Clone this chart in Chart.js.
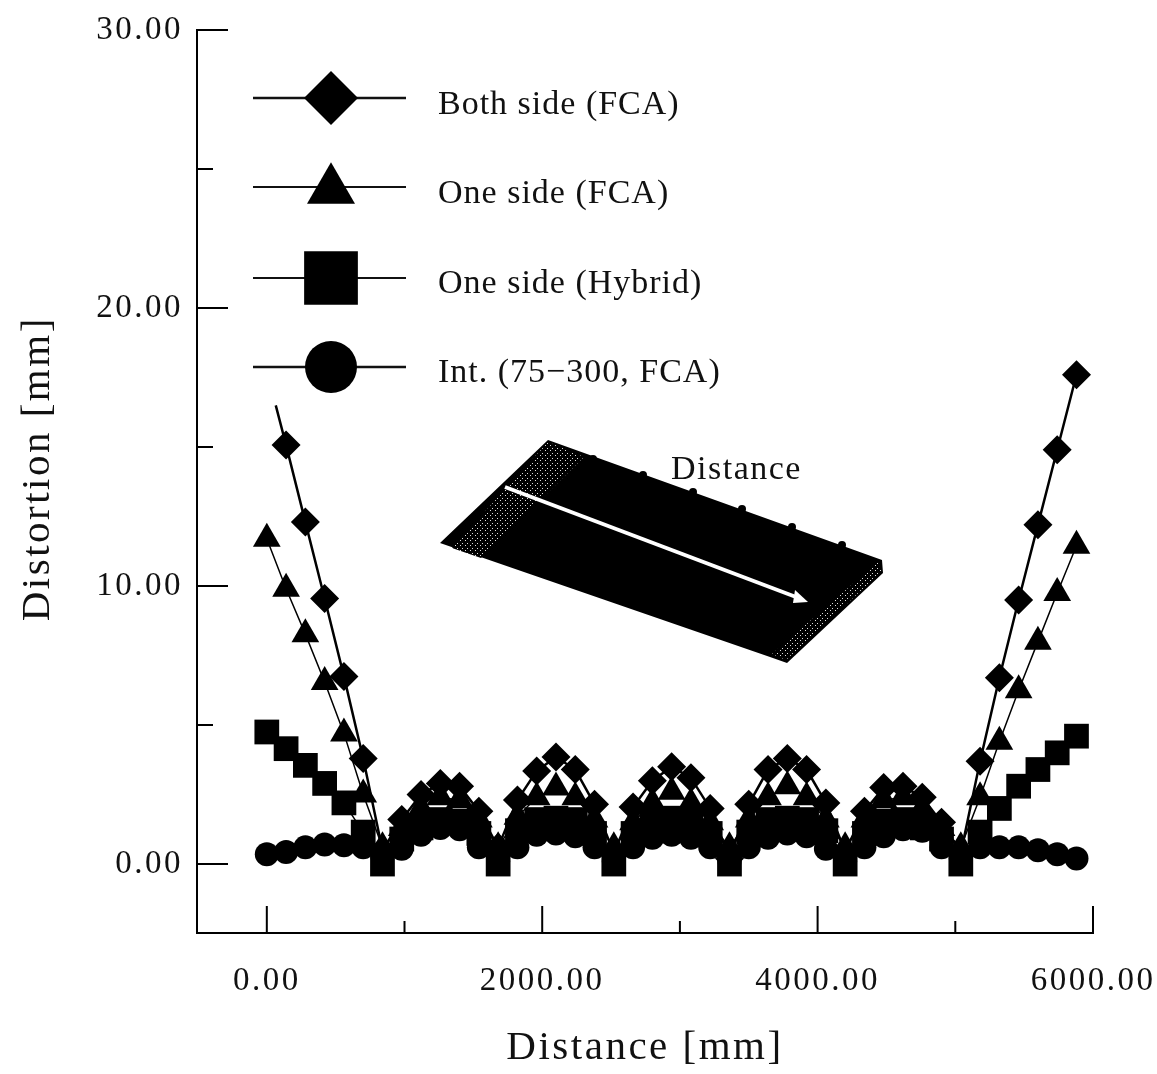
<!DOCTYPE html>
<html>
<head>
<meta charset="utf-8">
<style>
html, body { margin: 0; padding: 0; background: #fff; }
#wrap { width: 1157px; height: 1074px; }
</style>
<script src="https://cdn.jsdelivr.net/npm/chart.js@4/dist/chart.umd.min.js"></script>
</head>
<body>
<div id="wrap"><canvas id="grafico" width="1157" height="1074"></canvas></div>
<script>
const distance = [0,140,280,420,560,700,840,980,1120,1260,1400,1540,1680,1820,1960,2100,2240,2380,2520,2660,2800,2940,3080,3220,3360,3500,3640,3780,3920,4060,4200,4340,4480,4620,4760,4900,5040,5180,5320,5460,5600,5740,5880];
// the first diamond is missing in the picture, the line just starts here
const bothStartDistance = 65;

const bothSide = [16.5,15.07,12.3,9.55,6.75,3.8,0.5,1.6,2.5,2.9,2.8,1.9,0.6,2.3,3.35,3.85,3.4,2.15,0.4,2.05,3.0,3.5,3.1,2.0,0.2,2.15,3.4,3.8,3.4,2.2,0.45,1.9,2.75,2.8,2.4,1.5,0.4,3.7,6.7,9.5,12.2,14.9,17.6];
const oneSideFca = [11.7,9.9,8.27,6.55,4.7,2.5,0.6,1.3,2.0,2.4,2.3,1.6,0.6,1.7,2.4,2.75,2.4,1.6,0.6,1.5,2.2,2.6,2.2,1.5,0.6,1.6,2.4,2.8,2.4,1.6,0.6,1.6,2.3,2.4,2.0,1.3,0.6,2.4,4.4,6.25,8.0,9.75,11.45];
const oneSideHybrid = [4.75,4.15,3.55,2.9,2.2,1.15,0,0.9,1.3,1.6,1.55,1.1,0,1.2,1.6,1.65,1.6,1.1,0,1.1,1.55,1.65,1.55,1.1,0,1.15,1.6,1.65,1.6,1.2,0,1.1,1.55,1.6,1.3,0.9,0,1.15,2.0,2.8,3.4,4.0,4.6];
const intermittent = [0.35,0.43,0.6,0.7,0.68,0.6,0.25,0.55,1.05,1.3,1.25,0.6,0.1,0.6,1.05,1.1,1.0,0.6,0.1,0.6,0.95,1.05,0.95,0.6,0.1,0.6,0.95,1.1,1.0,0.55,0.1,0.6,1.0,1.25,1.2,0.6,0.2,0.6,0.6,0.6,0.5,0.35,0.2];

const xLabelTicks = [0,2000,4000,6000];
const xMinorTicks = [1000,3000,5000];
const yLabelTicks = [0,10,20,30];
const yMinorTicks = [5,15,25];

const legendLabels = ['Both side (FCA)','One side (FCA)','One side (Hybrid)','Int. (75\u2212300, FCA)'];

const SERIF = '"Liberation Serif", serif';

function punti(valori, xs) {
    return valori.map((v, i) => ({ x: xs ? xs[i] : distance[i], y: v }));
}

// stipple used on the two ends of the plate
function creaRetino() {
    const c = document.createElement('canvas');
    c.width = 5; c.height = 5;
    const g = c.getContext('2d');
    g.fillStyle = '#000';
    g.fillRect(0, 0, 5, 5);
    g.fillStyle = '#ddd';
    g.fillRect(0, 0, 1, 1);
    g.fillRect(2, 3, 1, 1);
    return c;
}

function poligono(ctx, pts) {
    ctx.beginPath();
    pts.forEach((p, i) => i ? ctx.lineTo(p[0], p[1]) : ctx.moveTo(p[0], p[1]));
    ctx.closePath();
    ctx.fill();
}

const spaziatura = {
    id: 'spaziatura',
    beforeDraw(chart) {
        chart.ctx.letterSpacing = '2.5px';
    }
};

const tickInterni = {
    id: 'tickInterni',
    afterDatasetsDraw(chart) {
        const ctx = chart.ctx, a = chart.chartArea;
        const xs = chart.scales.x, ys = chart.scales.y;
        ctx.save();
        ctx.strokeStyle = '#000';
        ctx.lineWidth = 2;
        ctx.beginPath();
        xLabelTicks.forEach(v => { const p = xs.getPixelForValue(v); ctx.moveTo(p, a.bottom); ctx.lineTo(p, a.bottom - 27); });
        xMinorTicks.forEach(v => { const p = xs.getPixelForValue(v); ctx.moveTo(p, a.bottom); ctx.lineTo(p, a.bottom - 12); });
        yLabelTicks.forEach(v => { const p = ys.getPixelForValue(v); ctx.moveTo(a.left, p); ctx.lineTo(a.left + 31, p); });
        yMinorTicks.forEach(v => { const p = ys.getPixelForValue(v); ctx.moveTo(a.left, p); ctx.lineTo(a.left + 16, p); });
        ctx.stroke();
        ctx.restore();
    }
};

const legenda = {
    id: 'legenda',
    afterDatasetsDraw(chart) {
        const ctx = chart.ctx;
        const righe = [
            { y: 98, ty: 105, stile: 'rectRot', r: 27, lw: 2.5 },
            { y: 187, ty: 194, stile: 'triangle', r: 27.7, my: 190, lw: 2 },
            { y: 278, ty: 284, stile: 'rect', r: 38, lw: 2 },
            { y: 367, ty: 373, stile: 'circle', r: 26, lw: 2.5 }
        ];
        ctx.save();
        righe.forEach((riga, i) => {
            ctx.strokeStyle = '#111';
            ctx.lineWidth = riga.lw;
            ctx.beginPath();
            ctx.moveTo(253, riga.y);
            ctx.lineTo(406, riga.y);
            ctx.stroke();
            ctx.fillStyle = '#000';
            Chart.helpers.drawPoint(ctx, { pointStyle: riga.stile, radius: riga.r, borderWidth: 0, rotation: 0 }, 331, riga.my || riga.y);
            ctx.fillStyle = '#111';
            ctx.font = '34px ' + SERIF;
            ctx.letterSpacing = '1px';
            ctx.textBaseline = 'middle';
            ctx.textAlign = 'left';
            ctx.fillText(legendLabels[i], 438, riga.ty);
        });
        ctx.restore();
    }
};

const piastra = {
    id: 'piastra',
    afterDatasetsDraw(chart) {
        const ctx = chart.ctx;
        ctx.save();
        ctx.fillStyle = '#000';
        poligono(ctx, [[548,440],[882,560],[883,573],[787,663],[770,657],[440,543]]);
        [[593,459],[643,475],[693,492],[742,509],[792,527],[842,545]].forEach(b => {
            ctx.beginPath();
            ctx.arc(b[0], b[1], 4, 0, Math.PI * 2);
            ctx.fill();
        });
        ctx.fillStyle = ctx.createPattern(creaRetino(), 'repeat');
        poligono(ctx, [[548,442],[584,457],[481,558],[452,548]]);
        poligono(ctx, [[878,562],[882,571],[786,660],[772,654]]);
        // arrow
        ctx.strokeStyle = '#fff';
        ctx.lineWidth = 4;
        ctx.beginPath();
        ctx.moveTo(505, 487);
        ctx.lineTo(796, 597);
        ctx.stroke();
        ctx.fillStyle = '#fff';
        poligono(ctx, [[808,602],[795,590],[793,603]]);
        ctx.fillStyle = '#111';
        ctx.font = '34px ' + SERIF;
        ctx.letterSpacing = '1.5px';
        ctx.textAlign = 'left';
        ctx.textBaseline = 'middle';
        ctx.fillText('Distance', 671, 470);
        ctx.restore();
    }
};

const serie = [
    { label: 'Both side (FCA)', data: punti(bothSide, distance.map((d, i) => i === 0 ? bothStartDistance : d)), pointStyle: 'rectRot', pointRadius: c => c.dataIndex === 0 ? 0 : 14.5, borderWidth: 2.5 },
    { label: 'One side (FCA)', data: punti(oneSideFca), pointStyle: 'triangle', pointRadius: 16, borderWidth: 1.5 },
    { label: 'One side (Hybrid)', data: punti(oneSideHybrid), pointStyle: 'rect', pointRadius: 17.5, borderWidth: 1.5 },
    { label: 'Int. (75-300, FCA)', data: punti(intermittent), pointStyle: 'circle', pointRadius: 12, borderWidth: 2 }
].map(s => Object.assign(s, {
    borderColor: '#000',
    backgroundColor: '#000',
    pointBackgroundColor: '#000',
    pointBorderWidth: 0,
    showLine: true,
    tension: 0,
    clip: false
}));

new Chart(document.getElementById('grafico'), {
    type: 'scatter',
    data: { datasets: serie },
    options: {
        responsive: false,
        animation: false,
        layout: { padding: { top: 30, right: 64, left: 0, bottom: 0 } },
        plugins: { legend: { display: false }, tooltip: { enabled: false } },
        scales: {
            x: {
                type: 'linear',
                min: -507,
                max: 6000,
                afterFit: s => { s.height = 141; s.paddingLeft = 0; s.paddingRight = 0; },
                afterBuildTicks: s => { s.ticks = xLabelTicks.map(v => ({ value: v })); },
                grid: { display: false, drawTicks: false },
                border: { color: '#000', width: 2 },
                ticks: {
                    color: '#111',
                    font: { family: SERIF, size: 33 },
                    padding: 29,
                    maxRotation: 0,
                    autoSkip: false,
                    callback: v => v.toFixed(2)
                },
                title: {
                    display: true,
                    text: 'Distance [mm]',
                    color: '#111',
                    font: { family: SERIF, size: 41 },
                    padding: { top: 0, bottom: 1 }
                }
            },
            y: {
                min: -2.48,
                max: 30,
                afterFit: s => { s.width = 197; s.paddingTop = 0; s.paddingBottom = 0; },
                afterBuildTicks: s => { s.ticks = yLabelTicks.map(v => ({ value: v })); },
                grid: { display: false, drawTicks: false },
                border: { color: '#000', width: 2 },
                ticks: {
                    color: '#111',
                    font: { family: SERIF, size: 33 },
                    padding: 14,
                    callback: v => v.toFixed(2)
                },
                title: {
                    display: true,
                    text: '  Distortion [mm]',
                    color: '#111',
                    font: { family: SERIF, size: 41 },
                    padding: { top: 14, bottom: 0 }
                }
            }
        }
    },
    plugins: [spaziatura, tickInterni, piastra, legenda]
});
</script>
</body>
</html>
